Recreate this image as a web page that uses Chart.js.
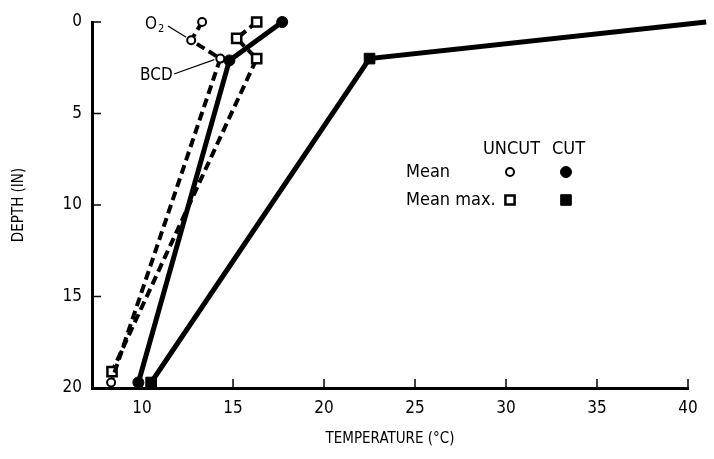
<!DOCTYPE html>
<html>
<head>
<meta charset="utf-8">
<script src="https://cdn.jsdelivr.net/npm/chart.js@4.4.0/dist/chart.umd.min.js"></script>
<style>
  html, body { margin: 0; padding: 0; background: #fff; }
</style>
</head>
<body>
<canvas id="chart" width="714" height="459"></canvas>
<script>
// temperature (°C) vs depth (in)
const uncutMean = [{x: 13.3, y: 0}, {x: 12.7, y: 1.0}, {x: 14.3, y: 2.0}, {x: 8.3, y: 19.7}]
const uncutMeanMax = [{x: 16.3, y: 0}, {x: 15.2, y: 0.9}, {x: 16.3, y: 2.0}, {x: 8.35, y: 19.1}]
const cutMean = [{x: 17.7, y: 0}, {x: 14.8, y: 2.1}, {x: 9.8, y: 19.7}]
const cutMeanMax = [{x: 41.0, y: 0}, {x: 22.5, y: 2.0}, {x: 10.5, y: 19.7}]

const xTicks = [10, 15, 20, 25, 30, 35, 40]
const yTicks = [0, 5, 10, 15, 20]

const FONT = "'Liberation Sans Narrow', 'DejaVu Sans Condensed', 'Liberation Sans', sans-serif"
Chart.defaults.font.family = FONT
Chart.defaults.color = '#000'

// marker styles, shared by the plot and the key
const openCircle = {pointStyle: 'circle', radius: 4, backgroundColor: '#fff', borderWidth: 2}
const fillCircle = {pointStyle: 'circle', radius: 5.5, backgroundColor: '#000', borderWidth: 1}
const openSquare = {pointStyle: 'rect', radius: 6.5, backgroundColor: '#fff', borderWidth: 2.5}
const fillSquare = {pointStyle: 'rect', radius: 7.5, backgroundColor: '#000', borderWidth: 1}

function series(data, marker, dashed) {
  return {
    data,
    borderColor: '#000',
    borderWidth: dashed ? 4 : 5,
    borderDash: dashed ? [9, 5] : [],
    borderCapStyle: 'butt',
    pointStyle: marker.pointStyle,
    pointRadius: marker.radius,
    pointBackgroundColor: marker.backgroundColor,
    pointBorderColor: '#000',
    pointBorderWidth: marker.borderWidth,
    tension: 0,
    clip: false
  }
}

function marker(ctx, m, x, y) {
  ctx.fillStyle = m.backgroundColor
  ctx.strokeStyle = '#000'
  ctx.lineWidth = m.borderWidth
  ctx.setLineDash([])
  Chart.helpers.drawPoint(ctx, {pointStyle: m.pointStyle, radius: m.radius, borderWidth: m.borderWidth, rotation: 0}, x, y)
}

function line(ctx, x1, y1, x2, y2) {
  ctx.beginPath()
  ctx.moveTo(x1, y1)
  ctx.lineTo(x2, y2)
  ctx.stroke()
}

const overlay = {
  id: 'overlay',
  afterDraw(chart) {
    const {ctx, scales: {x, y}} = chart
    ctx.save()
    ctx.strokeStyle = '#000'
    ctx.lineWidth = 1.5
    ctx.setLineDash([])
    // tick marks point into the plot
    yTicks.forEach((v) => {
      const py = y.getPixelForValue(v)
      line(ctx, x.left, py, x.left + 9, py)
    })
    xTicks.forEach((v) => {
      const px = x.getPixelForValue(v)
      line(ctx, px, y.bottom, px, y.bottom - 9)
    })

    // key
    ctx.fillStyle = '#000'
    ctx.textBaseline = 'middle'
    ctx.font = '18px ' + FONT
    ctx.fillText('UNCUT', 483, 149)
    ctx.fillText('CUT', 552, 149)
    ctx.fillText('Mean', 406, 172)
    ctx.fillText('Mean max.', 406, 200)
    marker(ctx, openCircle, 510, 172)
    marker(ctx, fillCircle, 566, 172)
    marker(ctx, openSquare, 510, 200)
    marker(ctx, fillSquare, 566, 200)

    // labels with leader lines
    ctx.fillStyle = '#000'
    ctx.font = '17px ' + FONT
    ctx.fillText('O', 145, 25)
    ctx.font = '11px ' + FONT
    ctx.fillText('2', 158, 29)
    ctx.font = '17px ' + FONT
    ctx.fillText('BCD', 140, 76)
    ctx.lineWidth = 1.2
    const o2 = uncutMean[1]
    line(ctx, 168, 26, x.getPixelForValue(o2.x) - 5, y.getPixelForValue(o2.y) - 3)
    const bcd = uncutMean[2]
    line(ctx, 174, 74, x.getPixelForValue(bcd.x) - 6, y.getPixelForValue(bcd.y) + 1)
    ctx.restore()
  }
}

new Chart(document.getElementById('chart'), {
  type: 'line',
  data: {
    datasets: [
      series(uncutMean, openCircle, true),
      series(uncutMeanMax, openSquare, true),
      series(cutMean, fillCircle, false),
      series(cutMeanMax, fillSquare, false)
    ]
  },
  options: {
    responsive: false,
    devicePixelRatio: 1,
    animation: false,
    events: [],
    layout: {padding: {top: 22, right: 26, left: 0, bottom: 0}},
    plugins: {legend: {display: false}, tooltip: {enabled: false}},
    scales: {
      x: {
        type: 'linear',
        min: 7.25,
        max: 40,
        afterBuildTicks: (s) => { s.ticks = xTicks.map((v) => ({value: v})) },
        afterFit: (s) => { s.height = 71 },
        grid: {display: false, drawTicks: false},
        border: {display: true, color: '#000', width: 3},
        ticks: {padding: 10, font: {size: 17}, maxRotation: 0},
        title: {display: true, text: 'TEMPERATURE (°C)', font: {size: 15}, padding: {top: 0, bottom: 11}}
      },
      y: {
        type: 'linear',
        reverse: true,
        min: 0,
        max: 20,
        afterBuildTicks: (s) => { s.ticks = yTicks.map((v) => ({value: v})) },
        afterFit: (s) => { s.width = 92 },
        grid: {display: false, drawTicks: false},
        border: {display: true, color: '#000', width: 3},
        ticks: {padding: 10, font: {size: 17}},
        title: {display: true, text: 'DEPTH (IN)', font: {size: 15}, padding: {top: 10, bottom: 0}}
      }
    }
  },
  plugins: [overlay]
})
</script>
</body>
</html>
